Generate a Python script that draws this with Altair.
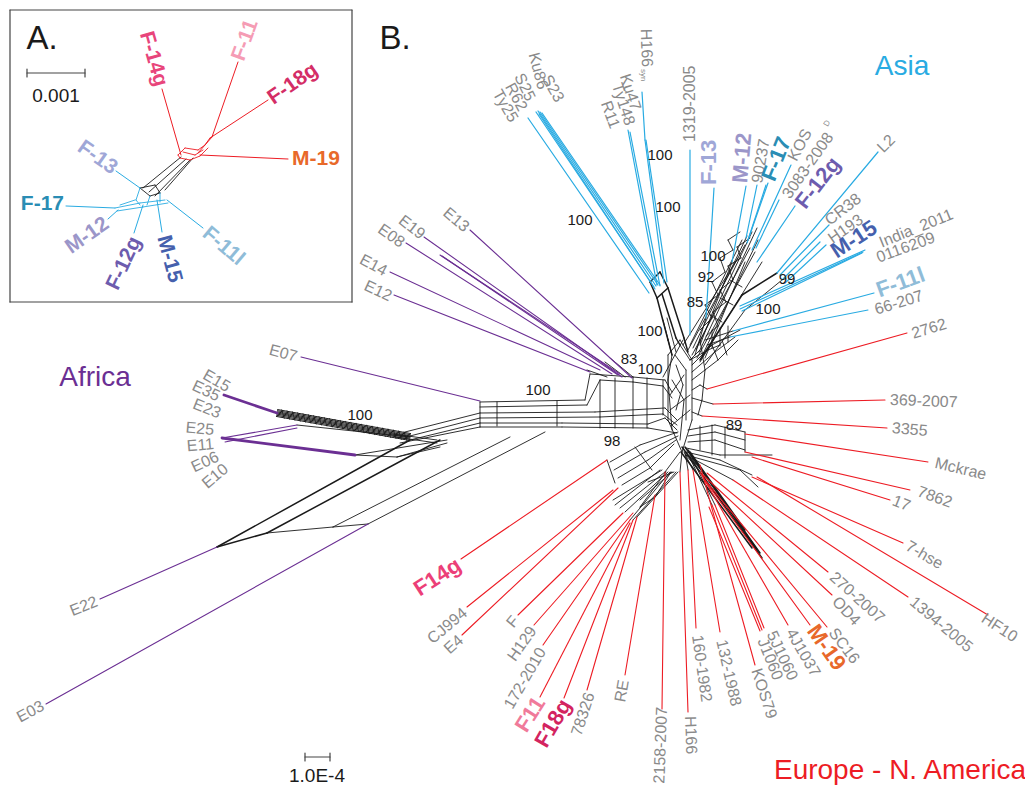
import math
import altair as alt
import pandas as pd

GRAY = "#8a8a8a"
BLUE = "#29abe2"
PURPLE = "#6b2f93"
RED = "#ed1c24"
BLACK = "#1a1a1a"
FONT = "Liberation Sans"

# ---------------- Panel B leaf edges: (tip_x, tip_y, base_x, base_y) ----------------
asia_edges = [
    (528, 118, 649, 293), (536, 112, 654, 287), (538, 111, 656, 286), (540, 112, 658, 285),
    (542, 113, 660, 285), (539, 114, 655, 289),
    (642, 92, 645, 140), (645, 140, 664, 283), (646, 140, 667, 282),
    (628, 130, 657, 285), (630, 132, 660, 286),
    (690, 150, 690, 335), (714, 188, 706, 318), (746, 186, 732, 262), (757, 185, 746, 238),
    (768, 183, 748, 240), (766, 185, 747, 243), (791, 165, 752, 250), (779, 200, 756, 248),
    (795, 206, 757, 262), (878, 152, 777, 273), (829, 225, 780, 275), (820, 242, 782, 280),
    (826, 245, 785, 283), (865, 250, 740, 306), (863, 252, 740, 309), (862, 253, 742, 311),
    (874, 293, 733, 331), (868, 310, 730, 337),
]
europe_edges = [
    (907, 333, 707, 389), (885, 400, 713, 404), (887, 428, 702, 416), (928, 462, 745, 434),
    (910, 490, 745, 452), (890, 500, 752, 457), (903, 543, 752, 477), (988, 615, 757, 477),
    (908, 597, 733, 480), (828, 572, 707, 473), (832, 595, 703, 475), (827, 627, 705, 480),
    (810, 625, 703, 478), (788, 625, 700, 472), (762, 630, 712, 505), (764, 628, 715, 505),
    (760, 631, 709, 507), (755, 665, 700, 465), (720, 632, 693, 470), (696, 628, 688, 470),
    (688, 712, 680, 472), (662, 709, 665, 472), (625, 675, 655, 495), (587, 690, 637, 517),
    (564, 698, 633, 520), (540, 697, 630, 523), (543, 645, 630, 520), (534, 625, 633, 513),
    (518, 615, 623, 513), (462, 635, 618, 488), (467, 607, 613, 490), (461, 559, 607, 460),
]
africa_edges = [
    (470, 230, 632, 378), (424, 237, 622, 377), (440, 255, 620, 374), (442, 256, 618, 375),
    (406, 243, 612, 374), (390, 272, 600, 370), (394, 295, 590, 372), (301, 357, 480, 401),
    (222, 438, 297, 425), (225, 442, 297, 428), (100, 599, 217, 547), (46, 704, 368, 524),
]
africa_thick = [(224, 395, 277, 413), (222, 438, 355, 455)]

# ---------------- Panel B reticulate network (black) ----------------
trunk = [(277, 413), (410, 437)]
trunk_offsets = [-3.5, -2.3, -1.1, 0, 1.1, 2.3, 3.5]
trunk_hatch = [0.03, 0.07, 0.11, 0.15, 0.19, 0.23, 0.27, 0.31, 0.35, 0.39, 0.43, 0.47, 0.51,
               0.55, 0.59, 0.63, 0.67, 0.71, 0.75, 0.79, 0.83, 0.87, 0.91, 0.95]

mesh_thin = [
    [(480, 402), (585, 400), (590, 374), (633, 377), (665, 380), (672, 392)],
    [(480, 407), (587, 405), (600, 380), (633, 382), (663, 386), (672, 398)],
    [(405, 432), (480, 413), (595, 412), (665, 408), (677, 420)],
    [(410, 436), (480, 418), (600, 417), (663, 414), (677, 425)],
    [(410, 440), (480, 423), (562, 423), (648, 424), (665, 418), (677, 430)],
    [(400, 443), (480, 427), (562, 427), (648, 428), (677, 433)],
    [(480, 402), (480, 427)], [(497, 402), (497, 426)], [(557, 401), (557, 426)],
    [(600, 380), (600, 428)], [(615, 378), (615, 428)], [(633, 377), (633, 428)],
    [(647, 378), (647, 428)], [(663, 380), (663, 415)],
    [(587, 370), (607, 377)], [(610, 358), (633, 377)], [(605, 362), (625, 377)],
    [(297, 425), (410, 437)], [(355, 455), (397, 457), (447, 443)], [(355, 455), (447, 440)],
    [(397, 457), (440, 447)], [(393, 434), (437, 440)], [(395, 437), (437, 443)],
    [(267, 533), (333, 527), (510, 437)], [(333, 527), (368, 524), (545, 432)],
    # centre
    [(668, 355), (680, 340), (692, 360), (692, 420), (682, 452), (668, 420), (668, 355)],
    [(675, 355), (686, 370), (686, 420)], [(672, 380), (684, 400), (680, 440)],
    [(663, 377), (683, 340)], [(663, 320), (672, 355)], [(667, 318), (676, 352)],
    [(672, 355), (668, 380), (672, 430)], [(680, 345), (690, 360), (700, 350)],
    [(690, 360), (708, 350), (720, 345)], [(676, 365), (683, 385), (676, 410)],
    [(670, 395), (684, 375)], [(670, 410), (690, 395)], [(672, 425), (690, 410)],
    # Asia mesh
    [(688, 350), (745, 245)], [(692, 355), (750, 248)], [(697, 358), (755, 252)],
    [(683, 345), (738, 258)], [(700, 362), (762, 262)],
    [(690, 345), (742, 240)], [(693, 348), (747, 236)], [(696, 350), (752, 232)],
    [(699, 352), (757, 228)], [(702, 356), (758, 240)], [(705, 358), (745, 262)],
    [(700, 330), (712, 318), (705, 305), (718, 295), (712, 282), (725, 272), (720, 258),
     (733, 250), (728, 240), (740, 232)],
    [(706, 336), (718, 326), (713, 312), (726, 302), (720, 290), (733, 280), (728, 266),
     (741, 258), (737, 247), (750, 238)],
    [(710, 315), (722, 322)], [(720, 298), (733, 305)], [(730, 280), (742, 287)],
    [(705, 365), (745, 310), (782, 280)], [(706, 318), (695, 355)], [(732, 262), (700, 345)],
    [(692, 365), (712, 345), (740, 330)], [(692, 372), (715, 352), (735, 337)],
    [(692, 380), (718, 360), (738, 340)], [(712, 345), (718, 360)], [(722, 340), (727, 355)],
    [(705, 340), (733, 331)], [(707, 345), (730, 337)], [(712, 330), (712, 348)],
    [(720, 328), (720, 346)], [(728, 326), (728, 342)],
    [(700, 340), (705, 370), (702, 400), (698, 415)],
    [(692, 390), (700, 385), (707, 389)], [(692, 398), (713, 404)], [(692, 412), (702, 416)],
    # lower right
    [(688, 430), (715, 425), (745, 432)], [(688, 436), (715, 432), (745, 440)],
    [(688, 442), (715, 440), (745, 450)], [(686, 448), (720, 455), (772, 455)],
    [(686, 452), (720, 460), (752, 475)], [(686, 455), (740, 470), (758, 487)],
    [(700, 426), (700, 450)], [(712, 425), (712, 455)], [(725, 427), (725, 458)], [(745, 432), (745, 452)],
    [(686, 452), (705, 475)], [(686, 455), (700, 472)], [(686, 455), (733, 480)],
    [(682, 452), (680, 472)], [(680, 452), (665, 472)], [(684, 452), (693, 470)], [(685, 452), (688, 470)],
    [(690, 458), (712, 505)], [(692, 458), (715, 505)],
    # lower left
    [(678, 432), (640, 445), (610, 462)], [(678, 436), (645, 452), (614, 470)],
    [(676, 440), (648, 460), (618, 478)], [(674, 444), (650, 468), (622, 485)],
    [(607, 460), (615, 483)], [(635, 447), (652, 470)],
    [(660, 470), (615, 505)], [(662, 470), (613, 500)], [(665, 472), (620, 508)],
    [(668, 472), (625, 512)], [(670, 472), (630, 520)], [(672, 472), (640, 500)],
    [(674, 472), (648, 482)], [(671, 472), (655, 497)], [(666, 472), (640, 507)],
    [(676, 472), (633, 520)], [(678, 472), (637, 517)], [(655, 497), (640, 507)],
]
mesh_thick = [
    [(217, 547), (410, 440)], [(217, 547), (267, 533), (440, 440)],
    [(650, 282), (660, 272), (668, 288), (657, 298), (650, 282)],
    [(657, 298), (668, 340), (672, 355)], [(662, 294), (676, 338), (680, 345)],
    [(668, 288), (684, 338), (688, 352)],
    [(700, 360), (742, 295), (777, 273)],
    [(682, 447), (762, 558)], [(685, 447), (760, 553)], [(688, 450), (757, 550)],
    [(681, 452), (752, 548)], [(690, 452), (745, 530)],
]

# ---------------- Panel A (inset) ----------------
inset_box = [(10, 10), (352, 10), (352, 302), (10, 302), (10, 10)]
inset_red_edges = [
    (162, 89, 181, 155), (238, 62, 212, 137), (212, 137, 198, 153), (268, 100, 210, 138),
    (210, 138, 205, 145), (288, 159, 200, 155),
]
inset_red_mesh = [
    [(178, 155), (185, 148), (198, 150), (205, 145)], [(180, 158), (190, 160), (200, 156), (208, 148)],
    [(183, 152), (195, 155), (203, 150)], [(178, 155), (180, 158)],
]
inset_black_mesh = [
    [(181, 157), (143, 188)], [(186, 159), (149, 192)], [(190, 160), (155, 196)], [(193, 158), (165, 190)],
    [(140, 188), (155, 185), (160, 193), (150, 196), (140, 188)],
]
inset_blue_edges = [
    (116, 171, 140, 188), (66, 206, 115, 208), (108, 219, 118, 210), (134, 233, 143, 205),
    (162, 232, 157, 200), (203, 228, 167, 200),
]
inset_blue_mesh = [
    [(115, 208), (140, 203), (165, 200)], [(117, 211), (143, 207), (168, 203)],
    [(140, 188), (136, 200), (140, 205)], [(150, 196), (147, 205)], [(160, 193), (160, 202)],
    [(120, 205), (135, 200)],
]
scale_bars = [[(27, 73), (85, 73)], [(27, 69), (27, 77)], [(85, 69), (85, 77)],
              [(305, 757), (330, 757)], [(305, 753), (305, 761)], [(330, 753), (330, 761)]]

# ---------------- labels: (text, x, y, angle, align) ----------------
gray_labels = [
    ("Ku86", 543, 89, 75, "right"), ("S23", 560, 101, 60, "right"), ("S25", 531, 100, 64, "right"),
    ("R62", 523, 110, 62, "right"), ("Ty25", 514, 121, 60, "right"), ("Ku47", 636, 110, 72, "right"),
    ("Ty148", 630, 125, 72, "right"), ("R11", 615, 128, 70, "right"), ("H166", 647, 67, 88, "right"),
    ("1319-2005", 690, 142, -90, "left"), ("90237", 757, 183, -80, "left"), ("KOS", 792, 160, -62, "left"),
    ("3083-2008", 786, 197, -55, "left"), ("L2", 880, 150, -45, "left"), ("CR38", 827, 222, -38, "left"),
    ("H193", 830, 240, -35, "left"), ("India_2011", 880, 243, -22, "left"), ("0116209", 877, 258, -20, "left"),
    ("66-207", 875, 310, -17, "left"),
    ("2762", 912, 334, -17, "left"), ("369-2007", 890, 400, 2, "left"), ("3355", 892, 428, 5, "left"),
    ("Mckrae", 935, 463, 13, "left"), ("7862", 918, 491, 20, "left"), ("17", 893, 500, 22, "left"),
    ("7-hse", 907, 545, 30, "left"), ("HF10", 983, 617, 33, "left"), ("1394-2005", 912, 600, 40, "left"),
    ("270-2007", 832, 575, 42, "left"), ("OD4", 835, 599, 47, "left"), ("SC16", 832, 630, 53, "left"),
    ("4J1037", 790, 630, 60, "left"), ("5J1060", 771, 632, 65, "left"), ("J1060", 762, 639, 68, "left"),
    ("KOS79", 756, 669, 72, "left"), ("132-1988", 721, 640, 77, "left"), ("160-1982", 697, 635, 82, "left"),
    ("H166", 690, 716, 88, "left"), ("2158-2007", 662, 707, -88, "right"), ("RE", 624, 680, -80, "right"),
    ("78326", 590, 693, -72, "right"), ("172-2010", 542, 649, -60, "right"), ("H129", 533, 628, -55, "right"),
    ("F", 516, 618, -50, "right"), ("E4", 461, 638, -42, "right"), ("CJ994", 465, 611, -40, "right"),
    ("E13", 467, 229, 40, "right"), ("E19", 423, 236, 38, "right"), ("E08", 403, 244, 35, "right"),
    ("E14", 386, 272, 28, "right"), ("E12", 391, 297, 25, "right"), ("E07", 297, 357, 15, "right"),
    ("E15", 229, 388, 30, "right"), ("E35", 219, 397, 25, "right"), ("E23", 220, 414, 22, "right"),
    ("E25", 214, 430, 5, "right"), ("E11", 214, 444, -5, "right"), ("E06", 218, 456, -25, "right"),
    ("E10", 226, 467, -40, "right"), ("E22", 97, 601, -22, "right"), ("E03", 43, 705, -28, "right"),
]
small_labels = [("syn", 643, 69, 90, "left"), ("D", 826, 126, -62, "left")]
bold_labels = [
    ("F-13", 709, 185, -90, "left"), ("M-12", 740, 183, -85, "left"), ("F-17", 768, 180, -68, "left"),
    ("F-12g", 800, 206, -52, "left"), ("M-15", 833, 253, -33, "left"), ("F-11l", 877, 291, -20, "left"),
    ("M-19", 812, 627, 55, "left"), ("F18g", 566, 701, -60, "right"), ("F11", 540, 699, -58, "right"),
    ("F14g", 459, 563, -33, "right"),
]
bold_colors = ["#9fa7d7", "#9b96c9", "#2a8db4", "#6d5cae", "#4560ad", "#8fbcd8",
               "#e8682a", "#d3245f", "#f07a9a", "#ec3f78"]
inset_labels = [
    ("F-14g", 161, 86, 74, "right"), ("F-11", 238, 60, -70, "left"), ("F-18g", 270, 100, -35, "left"),
    ("M-19", 292, 159, 0, "left"), ("F-13", 115, 170, 35, "right"), ("F-17", 64, 204, 0, "right"),
    ("M-12", 107, 222, -35, "right"), ("F-12g", 136, 238, -65, "right"), ("M-15", 163, 236, 75, "left"),
    ("F-11l", 205, 231, 40, "left"),
]
inset_colors = ["#e8457b", "#f59cb4", "#d42d66", "#e8692a", "#9fa7d7", "#2a8db4",
                "#9b96c9", "#6d5cae", "#4560ad", "#8fbcd8"]
bootstrap = [
    ("100", 660, 155), ("100", 668, 207), ("100", 580, 220), ("100", 713, 256), ("92", 706, 277),
    ("85", 695, 302), ("99", 787, 279), ("100", 768, 309), ("100", 650, 331), ("83", 629, 359),
    ("100", 650, 369), ("100", 538, 390), ("98", 612, 441), ("89", 734, 425), ("100", 360, 415),
]
regions = [("Asia", 902, 67, BLUE), ("Africa", 95, 378, PURPLE), ("Europe - N. America", 900, 771, RED)]
panel_titles = [("A.", 42, 39), ("B.", 395, 39)]
scale_texts = [("0.001", 56, 96), ("1.0E-4", 317, 776)]

# ---------------- build segment table ----------------
rows = []


def add_seg(x1, y1, x2, y2, color, w):
    rows.append(dict(x=x1, y=y1, x2=x2, y2=y2, c=color, w=w))


def add_path(pts, color, w):
    for (a, b), (c, d) in zip(pts[:-1], pts[1:]):
        add_seg(a, b, c, d, color, w)


def shift(pts, d):
    (a, b), (c, e) = pts[0], pts[-1]
    L = math.hypot(c - a, e - b)
    nx, ny = -(e - b) / L, (c - a) / L
    return [(p + nx * d, q + ny * d) for p, q in pts]


for off in trunk_offsets:
    add_path(shift(trunk, off), BLACK, 1.0)
(ax, ay), (bx, by) = trunk
TL = math.hypot(bx - ax, by - ay)
tnx, tny = -(by - ay) / TL, (bx - ax) / TL
for t in trunk_hatch:
    t2 = t + 0.03
    add_seg(ax + (bx - ax) * t - tnx * 4, ay + (by - ay) * t - tny * 4,
            ax + (bx - ax) * t2 + tnx * 4, ay + (by - ay) * t2 + tny * 4, BLACK, 0.8)

for pts in mesh_thin:
    add_path(pts, BLACK, 0.9)
for pts in mesh_thick:
    add_path(pts, BLACK, 1.5)

for e in asia_edges:
    add_seg(*e, BLUE, 1.2)
for e in europe_edges:
    add_seg(*e, RED, 1.1)
for e in africa_edges:
    add_seg(*e, PURPLE, 1.1)
for e in africa_thick:
    add_seg(*e, PURPLE, 2.8)

add_path(inset_box, "#444444", 1.2)
for pts in inset_black_mesh:
    add_path(pts, BLACK, 0.9)
for pts in inset_red_mesh:
    add_path(pts, RED, 0.9)
for e in inset_red_edges:
    add_seg(*e, RED, 1.0)
for pts in inset_blue_mesh:
    add_path(pts, BLUE, 0.9)
for e in inset_blue_edges:
    add_seg(*e, BLUE, 1.0)
for pts in scale_bars:
    add_path(pts, "#444444", 1.2)

segs = pd.DataFrame(rows)

# ---------------- build label table ----------------
lab = []
for t, x, y, a, al in gray_labels:
    lab.append(dict(t=t, x=x, y=y, a=a % 360, al=al, c=GRAY, s=16, wt="normal"))
for t, x, y, a, al in small_labels:
    lab.append(dict(t=t, x=x, y=y, a=a % 360, al=al, c=GRAY, s=8, wt="normal"))
for (t, x, y, a, al), c in zip(bold_labels, bold_colors):
    lab.append(dict(t=t, x=x, y=y, a=a % 360, al=al, c=c, s=22, wt="bold"))
for (t, x, y, a, al), c in zip(inset_labels, inset_colors):
    lab.append(dict(t=t, x=x, y=y, a=a % 360, al=al, c=c, s=21, wt="bold"))
for t, x, y in bootstrap:
    lab.append(dict(t=t, x=x, y=y, a=0, al="center", c=BLACK, s=15, wt="normal"))
for t, x, y, c in regions:
    lab.append(dict(t=t, x=x, y=y, a=0, al="center", c=c, s=28, wt="normal"))
for t, x, y in panel_titles:
    lab.append(dict(t=t, x=x, y=y, a=0, al="center", c=BLACK, s=33, wt="normal"))
for t, x, y in scale_texts:
    lab.append(dict(t=t, x=x, y=y, a=0, al="center", c=BLACK, s=19, wt="normal"))
labels = pd.DataFrame(lab)

xs = alt.Scale(domain=[8, 1025], nice=False, zero=False)
ys = alt.Scale(domain=[8, 787], nice=False, zero=False, reverse=True)

lines = alt.Chart(segs).mark_rule(strokeCap="round").encode(
    x=alt.X("x:Q", scale=xs, axis=None),
    y=alt.Y("y:Q", scale=ys, axis=None),
    x2="x2:Q",
    y2="y2:Q",
    color=alt.Color("c:N", scale=None),
    strokeWidth=alt.StrokeWidth("w:Q", scale=None),
)

layers = [lines]
for al in ["left", "right", "center"]:
    for wt in ["normal", "bold"]:
        sub = labels[(labels.al == al) & (labels.wt == wt)]
        if len(sub) == 0:
            continue
        layers.append(
            alt.Chart(sub).mark_text(align=al, baseline="middle", font=FONT, fontWeight=wt).encode(
                x=alt.X("x:Q", scale=xs, axis=None),
                y=alt.Y("y:Q", scale=ys, axis=None),
                text="t:N",
                color=alt.Color("c:N", scale=None),
                size=alt.Size("s:Q", scale=None),
                angle=alt.Angle("a:Q", scale=None),
            )
        )

chart = alt.layer(*layers).properties(
    width=1017, height=779, autosize="none", padding=0, background="white"
).configure_view(stroke=None)

chart.save("out.html", embed_options={"renderer": "svg", "actions": False})
